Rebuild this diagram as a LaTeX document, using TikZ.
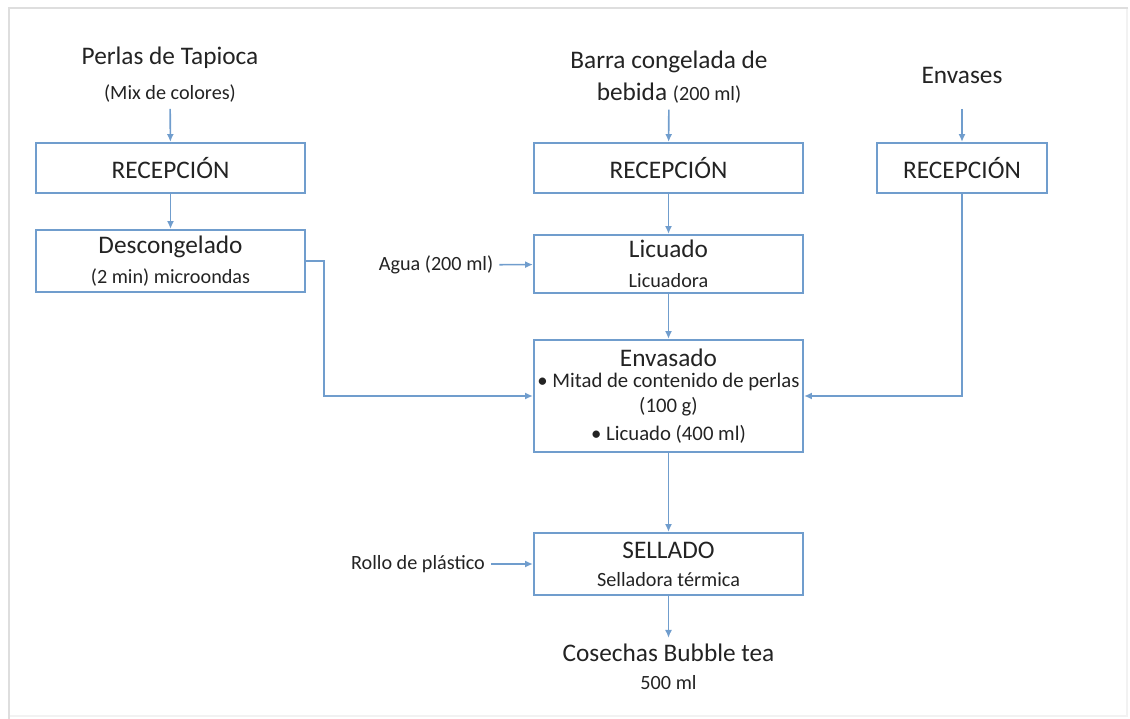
\documentclass[tikz,border=0pt]{standalone}
\usepackage{fontspec}
\setmainfont{Carlito}
\usepackage{tikz}
\usetikzlibrary{arrows.meta}
\definecolor{B}{RGB}{112,157,205}
\definecolor{T}{RGB}{35,35,35}
\definecolor{F}{RGB}{222,222,222}
\definecolor{G}{RGB}{242,242,242}
\newcommand{\bigtext}{\fontsize{14.4}{17}\selectfont}
\newcommand{\midtext}{\fontsize{11.8}{14}\selectfont}
\newcommand{\smalltext}{\fontsize{11.5}{14}\selectfont}
\tikzset{
  stepbox/.style={draw=B, line width=1.2pt, text=T, align=center, inner sep=1pt, minimum width=5.38cm},
  plain/.style={text=T, align=center},
  flow/.style={draw=B, line width=0.9pt, -{Latex[length=4.5pt,width=4pt]}}
}

\begin{document}
\begin{tikzpicture}[x=0.02cm, y=-0.02cm]
\useasboundingbox (0,0) rectangle (1130,719);
\draw[G, line width=1pt] (1127,8) -- (1127,716) -- (9,716);
\draw[F, line width=1.6pt] (1128,8) -- (9,8) -- (9,719);
\node[plain] (perlas) at (170,75) {\bigtext Perlas de Tapioca\\[8pt]\smalltext (Mix de colores)};
\node[plain] (barra) at (669,77) {\bigtext Barra congelada de\\[5pt]\bigtext bebida {\smalltext (200 ml)}};
\node[plain] (envases) at (962,75) {\bigtext Envases};
\node[stepbox, minimum height=1cm] (recA) at (170.5,168) {\bigtext RECEPCIÓN};
\node[stepbox, minimum height=1cm] (recB) at (668.5,168) {\bigtext RECEPCIÓN};
\node[stepbox, minimum height=1cm, minimum width=3.4cm] (recC) at (962,168) {\bigtext RECEPCIÓN};
\node[stepbox, minimum height=1.24cm] (desc) at (170.5,261) {\bigtext Descongelado\\[5pt]\smalltext (2 min) microondas};
\node[stepbox, minimum height=1.16cm] (licuado) at (668.5,264) {\bigtext Licuado\\[5pt]\smalltext Licuadora};
\node[plain] (agua) at (436,265) {\smalltext Agua (200 ml)};
\node[stepbox, minimum height=2.24cm] (envasado) at (668.5,396) {\bigtext Envasado\\[0pt]\midtext \textbullet\ Mitad de contenido de perlas\\[2.5pt]\midtext (100 g)\\[4pt]\midtext \textbullet\ Licuado (400 ml)};
\node[stepbox, minimum height=1.24cm] (sellado) at (668.5,564) {\bigtext SELLADO\\[4pt]\smalltext Selladora térmica};
\node[plain] (rollo) at (418,564) {\smalltext Rollo de plástico};
\node[plain] (cosechas) at (668.5,667) {\bigtext Cosechas Bubble tea\\[4pt]\smalltext 500 ml};
\draw[flow] (perlas) -- (recA);
\draw[flow] (barra) -- (recB);
\draw[flow] (envases |- perlas.south) -- (recC);
\draw[flow] (recA) -- (desc);
\draw[flow] (recB) -- (licuado);
\draw[flow] (agua) -- (licuado);
\draw[flow] (licuado) -- (envasado);
\draw[flow] (desc.east) -- ++(18,0) |- (envasado.west);
\draw[flow] (recC.south) |- (envasado.east);
\draw[flow] (envasado) -- (sellado);
\draw[flow] (rollo) -- (sellado);
\draw[flow] (sellado) -- (cosechas);
\end{tikzpicture}
\end{document}
